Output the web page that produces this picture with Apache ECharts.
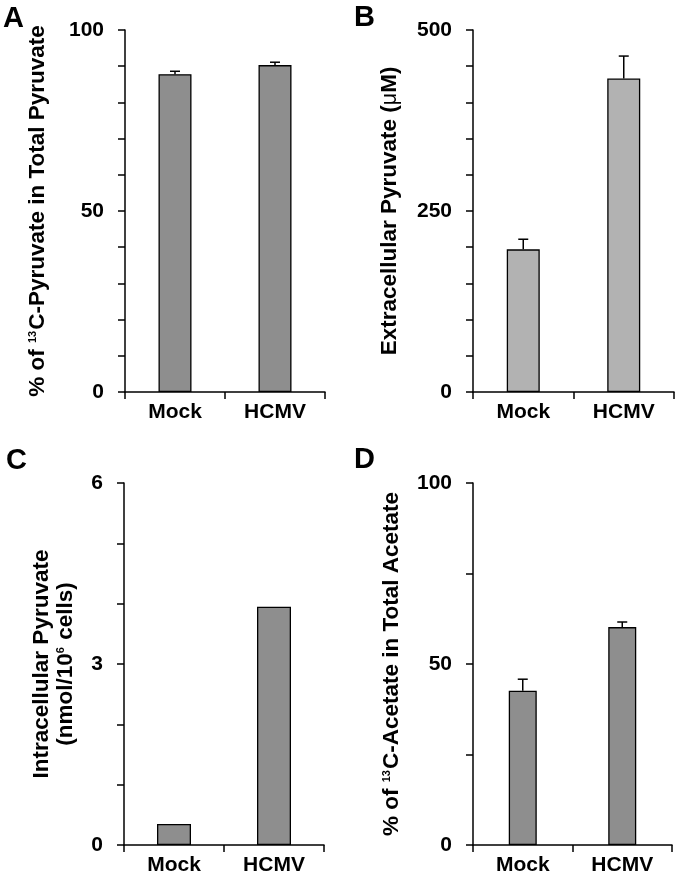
<!DOCTYPE html>
<html>
<head>
<meta charset="utf-8">
<script src="https://cdn.jsdelivr.net/npm/echarts@6/dist/echarts.min.js"></script>
<style>html,body{margin:0;padding:0;background:#fff}#c{width:677px;height:877px}</style>
</head>
<body>
<div id="c"></div>
<script>
const categories = ['Mock', 'HCMV'];
// Panel A: % of 13C-pyruvate in total pyruvate
const aValues = [87.8, 90.3];
const aErrors = [0.8, 0.8];
// Panel B: extracellular pyruvate (µM)
const bValues = [197, 433];
const bErrors = [14, 31];
// Panel C: intracellular pyruvate (nmol/10^6 cells)
const cValues = [0.35, 3.95];
// Panel D: % of 13C-acetate in total acetate
const dValues = [42.6, 60.2];
const dErrors = [3.2, 1.4];

const aTicks = {min: 0, max: 100, interval: 10, labelEvery: 50};
const bTicks = {min: 0, max: 500, interval: 50, labelEvery: 250};
const cTicks = {min: 0, max: 6, interval: 1, labelEvery: 3};
const dTicks = {min: 0, max: 100, interval: 25, labelEvery: 50};

const FONT = '"Liberation Sans", Arial, sans-serif';
const NAME_SIZE = 22.5;
const chart = echarts.init(document.getElementById('c'), null, {renderer: 'canvas'});

const grids = [
  {left: 125, top: 30, width: 200, height: 362},
  {left: 473, top: 30, width: 201, height: 362},
  {left: 124, top: 483, width: 200, height: 362},
  {left: 473, top: 483, width: 199, height: 362}
];

function xAxis(i) {
  return {
    type: 'category', gridIndex: i, data: categories,
    axisLine: {lineStyle: {color: '#000', width: 1.5}},
    axisTick: {show: true, length: 7, lineStyle: {color: '#000', width: 1.5}},
    axisLabel: {color: '#000', fontFamily: FONT, fontWeight: 'bold', fontSize: 21, margin: 10}
  };
}
function yAxis(i, t, name, gap) {
  return {
    type: 'value', gridIndex: i, min: t.min, max: t.max, interval: t.interval,
    splitLine: {show: false},
    axisLine: {show: true, lineStyle: {color: '#000', width: 1.5}},
    axisTick: {show: true, length: 7, lineStyle: {color: '#000', width: 1.5}},
    axisLabel: {color: '#000', fontFamily: FONT, fontWeight: 'bold', fontSize: 21, margin: 21,
      formatter: v => (Math.abs(v % t.labelEvery) < 1e-9 ? String(v) : '')},
    name: name, nameLocation: 'middle', nameRotate: 90, nameGap: gap,
    nameTextStyle: {color: '#000', fontFamily: FONT, fontWeight: 'bold', fontSize: NAME_SIZE, lineHeight: 24,
      rich: {
        n: {color: '#000', fontFamily: FONT, fontWeight: 'bold', fontSize: NAME_SIZE, lineHeight: 24},
        mu: {color: '#000', fontFamily: FONT, fontWeight: 'normal', fontSize: NAME_SIZE - 1, lineHeight: 24},
        sup: {color: '#000', fontFamily: FONT, fontSize: 11, padding: [0, 1, 11, 0]}
      }}
  };
}
function bar(i, values, color, width) {
  return {
    type: 'bar', xAxisIndex: i, yAxisIndex: i, data: values, barWidth: width,
    itemStyle: {color: color, borderColor: '#000', borderWidth: 1.3},
    silent: true, animation: false
  };
}
function err(i, values, errors) {
  return {
    type: 'custom', xAxisIndex: i, yAxisIndex: i, silent: true, animation: false, z: 1,
    data: values.map((v, k) => [k, v, errors[k]]),
    renderItem: (params, api) => {
      const base = api.coord([api.value(0), api.value(1)]);
      const top = api.coord([api.value(0), api.value(1) + api.value(2)]);
      const st = {stroke: '#000', lineWidth: 1.5};
      return {type: 'group', children: [
        {type: 'line', shape: {x1: base[0], y1: base[1], x2: top[0], y2: top[1]}, style: st},
        {type: 'line', shape: {x1: top[0] - 5, y1: top[1], x2: top[0] + 5, y2: top[1]}, style: st}
      ]};
    }
  };
}

const letter = (txt, x, y) => ({type: 'text', left: x, top: y,
  style: {text: txt, fill: '#000', font: 'bold 29px ' + FONT}});

chart.setOption({
  animation: false,
  backgroundColor: '#fff',
  grid: grids,
  xAxis: [xAxis(0), xAxis(1), xAxis(2), xAxis(3)],
  yAxis: [
    yAxis(0, aTicks, '{n|% of }{sup|13}{n|C-Pyruvate in Total Pyruvate}', 75),
    yAxis(1, bTicks, '{n|Extracellular Pyruvate (}{mu|μ}{n|M)}', 71),
    yAxis(2, cTicks, '{n|Intracellular Pyruvate}\n{n|(nmol/10}{sup|6}{n| cells)}', 46),
    yAxis(3, dTicks, '{n|% of }{sup|13}{n|C-Acetate in Total Acetate}', 69)
  ],
  series: [
    bar(0, aValues, '#8e8e8e', 33), err(0, aValues, aErrors),
    bar(1, bValues, '#b2b2b2', 33), err(1, bValues, bErrors),
    bar(2, cValues, '#8e8e8e', 34),
    bar(3, dValues, '#8e8e8e', 28), err(3, dValues, dErrors)
  ],
  graphic: [letter('A', 3, 4), letter('B', 354, 3), letter('C', 6, 446), letter('D', 354, 445)]
});
</script>
</body>
</html>
